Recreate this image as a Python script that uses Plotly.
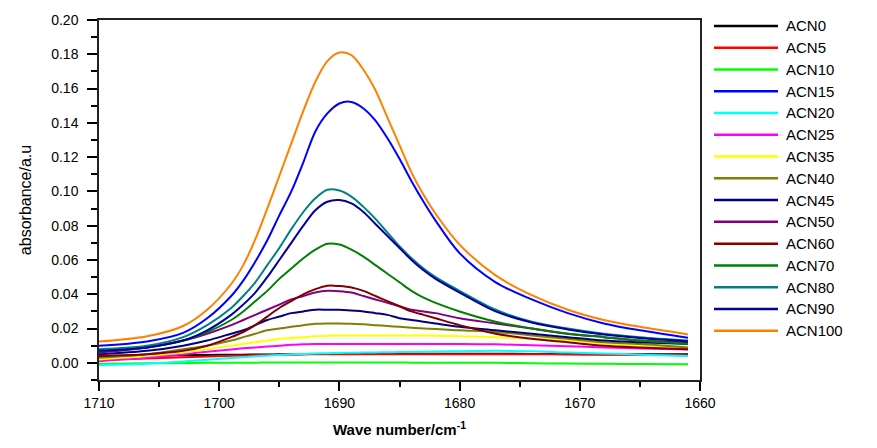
import plotly.graph_objects as go

# Wavenumber grid (cm^-1)
wavenumber = [1710, 1706, 1703, 1701, 1699, 1698, 1697, 1696, 1695, 1694, 1693, 1692, 1691, 1690,
              1689, 1688, 1687, 1686, 1685, 1684, 1683, 1682, 1680, 1677, 1674, 1671, 1668, 1665, 1661]

series_names = ["ACN0", "ACN5", "ACN10", "ACN15", "ACN20", "ACN25", "ACN35", "ACN40",
                "ACN45", "ACN50", "ACN60", "ACN70", "ACN80", "ACN90", "ACN100"]

series_colors = ["#000000", "#FF0000", "#00FF00", "#0000FF", "#00FFFF", "#FF00FF", "#FFFF00", "#808000",
                 "#000080", "#800080", "#800000", "#008000", "#008080", "#0000A0", "#FF8000"]

acn0 = [0.0040, 0.0042, 0.0045, 0.0046, 0.0048, 0.0048, 0.0049, 0.0049, 0.0050, 0.0050, 0.0051, 0.0051, 0.0052, 0.0052,
        0.0052, 0.0053, 0.0053, 0.0053, 0.0053, 0.0053, 0.0053, 0.0053, 0.0053, 0.0053, 0.0052, 0.0051, 0.0050, 0.0050, 0.0050]
acn5 = [0.0018, 0.0025, 0.0032, 0.0037, 0.0041, 0.0043, 0.0045, 0.0046, 0.0048, 0.0049, 0.0049, 0.0050, 0.0050, 0.0050,
        0.0050, 0.0050, 0.0050, 0.0050, 0.0050, 0.0050, 0.0050, 0.0050, 0.0050, 0.0050, 0.0050, 0.0049, 0.0048, 0.0047, 0.0045]
acn10 = [-0.0005, -0.0003, -0.0001, 0.0000, 0.0001, 0.0001, 0.0001, 0.0002, 0.0002, 0.0002, 0.0002, 0.0002, 0.0002, 0.0002,
         0.0002, 0.0002, 0.0002, 0.0002, 0.0002, 0.0001, 0.0001, 0.0001, 0.0001, 0.0000, -0.0002, -0.0004, -0.0005, -0.0007, -0.0008]
acn15 = [0.0100, 0.0125, 0.0175, 0.0260, 0.0390, 0.0480, 0.0590, 0.0715, 0.0860, 0.1000, 0.1170, 0.1350, 0.1455, 0.1513,
         0.1522, 0.1484, 0.1413, 0.1310, 0.1190, 0.1060, 0.0940, 0.0830, 0.0640, 0.0470, 0.0370, 0.0290, 0.0230, 0.0190, 0.0147]
acn20 = [-0.0012, -0.0005, 0.0008, 0.0018, 0.0028, 0.0033, 0.0038, 0.0042, 0.0046, 0.0050, 0.0052, 0.0055, 0.0056, 0.0058,
         0.0059, 0.0060, 0.0061, 0.0062, 0.0063, 0.0064, 0.0065, 0.0066, 0.0068, 0.0070, 0.0068, 0.0060, 0.0055, 0.0048, 0.0040]
acn25 = [0.0010, 0.0030, 0.0050, 0.0065, 0.0078, 0.0085, 0.0090, 0.0095, 0.0100, 0.0105, 0.0108, 0.0110, 0.0110, 0.0110,
         0.0110, 0.0110, 0.0110, 0.0110, 0.0110, 0.0110, 0.0110, 0.0110, 0.0110, 0.0108, 0.0103, 0.0097, 0.0090, 0.0084, 0.0078]
acn35 = [0.0020, 0.0040, 0.0060, 0.0080, 0.0100, 0.0110, 0.0120, 0.0130, 0.0140, 0.0145, 0.0150, 0.0155, 0.0158, 0.0160,
         0.0160, 0.0160, 0.0160, 0.0160, 0.0160, 0.0160, 0.0160, 0.0158, 0.0155, 0.0150, 0.0140, 0.0130, 0.0110, 0.0100, 0.0090]
acn40 = [0.0030, 0.0050, 0.0080, 0.0100, 0.0130, 0.0150, 0.0170, 0.0190, 0.0200, 0.0210, 0.0220, 0.0228, 0.0230, 0.0230,
         0.0228, 0.0225, 0.0220, 0.0215, 0.0210, 0.0205, 0.0200, 0.0198, 0.0190, 0.0180, 0.0160, 0.0140, 0.0120, 0.0110, 0.0090]
acn45 = [0.0050, 0.0070, 0.0100, 0.0130, 0.0170, 0.0190, 0.0220, 0.0250, 0.0270, 0.0290, 0.0300, 0.0310, 0.0310, 0.0310,
         0.0305, 0.0300, 0.0290, 0.0280, 0.0260, 0.0250, 0.0240, 0.0230, 0.0210, 0.0190, 0.0170, 0.0150, 0.0130, 0.0120, 0.0110]
acn50 = [0.0060, 0.0090, 0.0130, 0.0170, 0.0220, 0.0250, 0.0280, 0.0310, 0.0340, 0.0370, 0.0390, 0.0410, 0.0420, 0.0418,
         0.0410, 0.0390, 0.0370, 0.0350, 0.0330, 0.0310, 0.0300, 0.0290, 0.0260, 0.0230, 0.0200, 0.0170, 0.0150, 0.0130, 0.0120]
acn60 = [0.0040, 0.0050, 0.0070, 0.0100, 0.0150, 0.0180, 0.0220, 0.0270, 0.0320, 0.0360, 0.0400, 0.0430, 0.0450, 0.0448,
         0.0440, 0.0420, 0.0390, 0.0360, 0.0330, 0.0300, 0.0280, 0.0260, 0.0220, 0.0170, 0.0140, 0.0120, 0.0100, 0.0090, 0.0080]
acn70 = [0.0070, 0.0090, 0.0130, 0.0180, 0.0250, 0.0300, 0.0360, 0.0420, 0.0490, 0.0550, 0.0610, 0.0660, 0.0695, 0.0690,
         0.0660, 0.0620, 0.0570, 0.0520, 0.0470, 0.0420, 0.0380, 0.0350, 0.0300, 0.0240, 0.0200, 0.0170, 0.0150, 0.0130, 0.0110]
acn80 = [0.0080, 0.0100, 0.0150, 0.0220, 0.0320, 0.0390, 0.0470, 0.0570, 0.0670, 0.0780, 0.0880, 0.0960, 0.1010, 0.1005,
         0.0970, 0.0910, 0.0840, 0.0760, 0.0680, 0.0610, 0.0550, 0.0500, 0.0420, 0.0310, 0.0240, 0.0200, 0.0170, 0.0150, 0.0130]
acn90 = [0.0070, 0.0090, 0.0130, 0.0190, 0.0280, 0.0340, 0.0410, 0.0500, 0.0600, 0.0700, 0.0800, 0.0890, 0.0940, 0.0950,
         0.0930, 0.0880, 0.0810, 0.0740, 0.0670, 0.0600, 0.0540, 0.0490, 0.0410, 0.0300, 0.0235, 0.0195, 0.0165, 0.0145, 0.0125]
acn100 = [0.0124, 0.0155, 0.0215, 0.0310, 0.0460, 0.0570, 0.0720, 0.0900, 0.1090, 0.1280, 0.1470, 0.1640, 0.1760, 0.1810,
          0.1795, 0.1710, 0.1590, 0.1430, 0.1270, 0.1110, 0.0980, 0.0870, 0.0690, 0.0510, 0.0395, 0.0310, 0.0250, 0.0210, 0.0166]

series_values = [acn0, acn5, acn10, acn15, acn20, acn25, acn35, acn40,
                 acn45, acn50, acn60, acn70, acn80, acn90, acn100]

fig = go.Figure()
for name, color, vals in zip(series_names, series_colors, series_values):
    fig.add_trace(go.Scatter(
        x=wavenumber, y=vals, name=name, mode="lines",
        line=dict(color=color, width=2, shape="spline", smoothing=0.9),
        showlegend=False,
    ))

# Manual legend (to match long legend line segments)
L, R, T, B = 99, 177, 15, 66
W, H = 877 - L - R, 448 - T - B
def px_x(p):
    return (p - L) / W
def px_y(p):
    return 1 - (p - T) / H

shapes = []
annotations = []
for i, (name, color) in enumerate(zip(series_names, series_colors)):
    yc = 21 + i * 22.2
    shapes.append(dict(type="line", xref="paper", yref="paper",
                       x0=px_x(714), x1=px_x(778), y0=px_y(yc), y1=px_y(yc),
                       line=dict(color=color, width=2.5)))
    annotations.append(dict(xref="paper", yref="paper", x=px_x(784), y=px_y(yc),
                            text=name, showarrow=False, xanchor="left", yanchor="middle",
                            font=dict(family="Liberation Sans, Arial", size=15, color="#000")))

fig.update_layout(
    width=877, height=448,
    margin=dict(l=L, r=R, t=T, b=B),
    paper_bgcolor="white", plot_bgcolor="white",
    shapes=shapes, annotations=annotations,
    font=dict(family="Liberation Sans, Arial", color="#000"),
)
fig.update_xaxes(
    range=[1710, 1660], dtick=10, tick0=1660,
    ticks="outside", ticklen=9, tickwidth=1.5, tickcolor="#000",
    minor=dict(dtick=5, ticks="outside", ticklen=5, tickwidth=1.5, tickcolor="#000", showgrid=False),
    showline=True, linecolor="#222", linewidth=1.5, mirror=True,
    showgrid=False, zeroline=False,
    tickfont=dict(size=14, family="Liberation Sans, Arial"),
    title=dict(text="<b>Wave number/cm<sup>-1</sup></b>", font=dict(size=15, family="Liberation Sans, Arial"),
               standoff=15),
)
fig.update_yaxes(
    range=[-0.01, 0.20], dtick=0.02, tick0=0, tickformat=".2f",
    ticks="outside", ticklen=10, tickwidth=1.5, tickcolor="#000",
    minor=dict(dtick=0.01, ticks="outside", ticklen=6, tickwidth=1.5, tickcolor="#000", showgrid=False),
    showline=True, linecolor="#222", linewidth=1.5, mirror=True,
    showgrid=False, zeroline=False,
    tickfont=dict(size=14, family="Liberation Sans, Arial"),
    ticklabelstandoff=6,
    title=dict(text="absorbance/a.u", font=dict(size=16, family="Liberation Sans, Arial"), standoff=16),
)

fig.write_html("out.html")
